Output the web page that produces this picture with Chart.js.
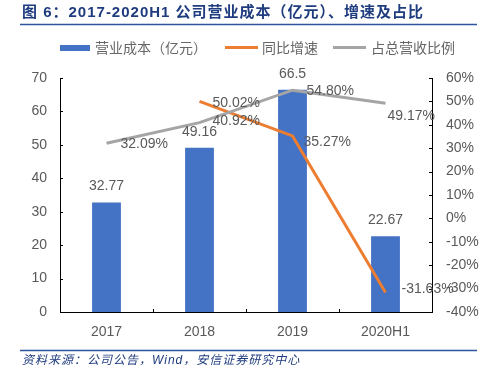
<!DOCTYPE html>
<html>
<head>
<meta charset="utf-8">
<script src="https://cdn.jsdelivr.net/npm/chart.js@4.4.1/dist/chart.umd.min.js"></script>
<style>
  html, body { margin: 0; padding: 0; background: #fff; }
  #wrap { width: 487px; height: 374px; position: relative; }
</style>
</head>
<body>
<div id="wrap"><canvas id="chart" width="487" height="374"></canvas></div>
<script>
// data
const categories = ['2017', '2018', '2019', '2020H1'];
const costValues = [32.77, 49.16, 66.5, 22.67];       // 营业成本（亿元）
const growthValues = [null, 50.02, 35.27, -31.63];    // 同比增速 %
const shareValues = [32.09, 40.92, 54.80, 49.17];     // 占总营收比例 %
const costTicks = [0, 10, 20, 30, 40, 50, 60, 70];
const pctTicks = [-40, -30, -20, -10, 0, 10, 20, 30, 40, 50, 60];

// label placement (dx, dy from the point), kept apart from the data
const growthLabelOffsets = [null, [13, 2], [11, 6], [16, -3]];
const shareLabelOffsets = [[14, 1], [13, -2], [14, 1], [2, 13]];

const BLUE = '#4472C4';
const ORANGE = '#ED7D31';
const GRAY = '#A5A5A5';
const NAVY = '#1F3C7F';
const TEXT = '#595959';
const LATIN = '"Liberation Sans", Arial, sans-serif';
const CJK = '"Noto Sans CJK SC", sans-serif';

const decorPlugin = {
    id: 'decor',
    afterDraw(chart) {
        const ctx = chart.ctx;
        const area = chart.chartArea;
        ctx.save();

        // title + rules
        ctx.fillStyle = NAVY;
        ctx.font = 'bold 15px ' + LATIN + ', ' + CJK;
        ctx.textBaseline = 'middle';
        ctx.textAlign = 'left';
        ctx.letterSpacing = '1px';
        ctx.fillText('图 6：2017-2020H1 公司营业成本（亿元）、增速及占比', 22, 13);
        ctx.strokeStyle = '#2E54A1';
        ctx.lineWidth = 1.5;
        ctx.beginPath();
        ctx.moveTo(20, 24.5); ctx.lineTo(477, 24.5);
        ctx.moveTo(20, 350.5); ctx.lineTo(477, 350.5);
        ctx.stroke();

        // footer
        ctx.font = 'italic 12px ' + LATIN + ', ' + CJK;
        ctx.fillText('资料来源：公司公告，Wind，安信证券研究中心', 22, 361);
        ctx.letterSpacing = '0px';

        // legend
        ctx.fillStyle = BLUE;
        ctx.fillRect(60, 45, 30, 6);
        ctx.lineWidth = 3;
        ctx.strokeStyle = ORANGE;
        ctx.beginPath(); ctx.moveTo(225, 47.5); ctx.lineTo(258, 47.5); ctx.stroke();
        ctx.strokeStyle = GRAY;
        ctx.beginPath(); ctx.moveTo(333, 47.5); ctx.lineTo(366, 47.5); ctx.stroke();
        ctx.fillStyle = '#666';
        ctx.font = '14px ' + CJK;
        ctx.fillText('营业成本（亿元）', 95, 48);
        ctx.fillText('同比增速', 262, 48);
        ctx.fillText('占总营收比例', 371, 48);

        // inner tick marks
        ctx.strokeStyle = '#000';
        ctx.lineWidth = 1;
        ctx.beginPath();
        const y = chart.scales.y, y1 = chart.scales.y1;
        costTicks.forEach(v => {
            const py = Math.round(y.getPixelForValue(v)) + 0.5;
            ctx.moveTo(area.left, py); ctx.lineTo(area.left + 3, py);
        });
        pctTicks.forEach(v => {
            const py = Math.round(y1.getPixelForValue(v)) + 0.5;
            ctx.moveTo(area.right, py); ctx.lineTo(area.right - 3, py);
        });
        for (let i = 0; i <= categories.length; i++) {
            const px = Math.round(area.left + (area.right - area.left) * i / categories.length) + 0.5;
            ctx.moveTo(px, area.bottom); ctx.lineTo(px, area.bottom - 3);
        }
        ctx.stroke();

        // value labels
        ctx.fillStyle = TEXT;
        ctx.font = '14px ' + LATIN;
        ctx.textBaseline = 'middle';
        chart.getDatasetMeta(0).data.forEach((bar, i) => {
            ctx.textAlign = 'center';
            ctx.fillText(String(costValues[i]), bar.x, bar.y - 16);
        });
        ctx.textAlign = 'left';
        chart.getDatasetMeta(1).data.forEach((pt, i) => {
            if (growthValues[i] === null) return;
            const o = growthLabelOffsets[i];
            ctx.fillText(growthValues[i].toFixed(2) + '%', pt.x + o[0], pt.y + o[1]);
        });
        chart.getDatasetMeta(2).data.forEach((pt, i) => {
            const o = shareLabelOffsets[i];
            ctx.fillText(shareValues[i].toFixed(2) + '%', pt.x + o[0], pt.y + o[1]);
        });
        ctx.restore();
    }
};

new Chart(document.getElementById('chart').getContext('2d'), {
    type: 'bar',
    data: {
        labels: categories,
        datasets: [
            {
                type: 'bar',
                label: '营业成本（亿元）',
                data: costValues,
                backgroundColor: BLUE,
                yAxisID: 'y',
                categoryPercentage: 1,
                barPercentage: 0.31,
                order: 3
            },
            {
                type: 'line',
                label: '同比增速',
                data: growthValues,
                borderColor: ORANGE,
                borderWidth: 3,
                pointRadius: 0,
                yAxisID: 'y1',
                spanGaps: false,
                order: 2
            },
            {
                type: 'line',
                label: '占总营收比例',
                data: shareValues,
                borderColor: GRAY,
                borderWidth: 3,
                pointRadius: 0,
                yAxisID: 'y1',
                order: 1
            }
        ]
    },
    options: {
        responsive: false,
        animation: false,
        layout: { padding: { top: 78, left: 0, right: 0, bottom: 0 } },
        plugins: { legend: { display: false }, tooltip: { enabled: false }, title: { display: false } },
        scales: {
            x: {
                grid: { display: false, drawTicks: false },
                border: { color: '#000', width: 1 },
                ticks: { color: TEXT, font: { family: LATIN, size: 14 }, padding: 12 },
                afterFit(s) { s.height = 62; }
            },
            y: {
                position: 'left',
                min: 0, max: 70,
                grid: { display: false, drawTicks: false },
                border: { color: '#000', width: 1 },
                ticks: { stepSize: 10, color: TEXT, font: { family: LATIN, size: 14 }, padding: 13 },
                afterFit(s) { s.width = 60; }
            },
            y1: {
                position: 'right',
                min: -40, max: 60,
                grid: { display: false, drawTicks: false },
                border: { color: '#000', width: 1 },
                ticks: {
                    stepSize: 10, color: TEXT, font: { family: LATIN, size: 14 }, padding: 14,
                    callback: v => v + '%'
                },
                afterFit(s) { s.width = 55; }
            }
        }
    },
    plugins: [decorPlugin]
});
</script>
</body>
</html>
